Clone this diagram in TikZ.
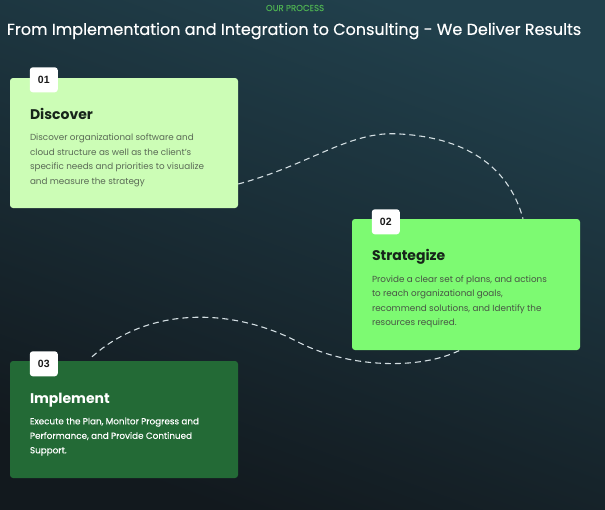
\documentclass[tikz,border=0pt]{standalone}
\usepackage{fontspec}
\setmainfont{Poppins}
\newfontfamily\medfont[FakeBold=0.3]{Poppins}
\newfontfamily\tabfont{Liberation Sans}
\usetikzlibrary{backgrounds}

\definecolor{bgtop}{HTML}{21404C}
\definecolor{bgbot}{HTML}{12191E}
\definecolor{discfill}{HTML}{CCFDB6}
\definecolor{stratfill}{HTML}{7DFA72}
\definecolor{implfill}{HTML}{236A36}
\definecolor{darktext}{HTML}{17251A}
\definecolor{greytext}{HTML}{5A6A56}
\definecolor{kicker}{HTML}{4DAF52}
\definecolor{trailcol}{HTML}{D3DEE2}

\begin{document}
\begin{tikzpicture}[x=1pt,y=-1pt]
  \tikzstyle{card}=[rounded corners=3pt,minimum width=228pt,inner sep=0pt]
  \tikzstyle{tab}=[fill=white,rounded corners=3pt,minimum width=28pt,minimum height=25pt,inner sep=0pt,text=black!90,font=\tabfont\bfseries\fontsize{10.5}{12}\selectfont]
  \tikzstyle{cardtitle}=[anchor=base west,inner sep=0pt,font=\bfseries\fontsize{14}{16}\selectfont]
  \tikzstyle{cardtext}=[anchor=base west,inner sep=0pt,align=left,font=\fontsize{8.8}{14.5}\selectfont]
  \tikzstyle{trail}=[draw=trailcol,line width=1.1pt,dash pattern=on 6pt off 4pt]

  % heading
  \node[text=kicker,font=\medfont\fontsize{8.6}{10}\selectfont] (kick) at (295,8) {OUR PROCESS};
  \node[text=white,font=\medfont\fontsize{16}{18}\selectfont] (head) at (294,31) {From Implementation and Integration to Consulting - We Deliver Results};

  % step 1
  \node[card,fill=discfill,minimum height=130pt] (disc) at (124,143) {};
  \node[tab] (n1) at ([shift={(34,2)}]disc.north west) {01};
  \node[cardtitle,text=darktext] (t1) at ([shift={(20,42)}]disc.north west) {Discover};
  % base anchor sits on the last line
  \node[cardtext,text=greytext] (b1) at ([shift={(20,106.5)}]disc.north west) {Discover organizational software and\\cloud structure as well as the client's\\specific needs and priorities to visualize\\and measure the strategy};

  % step 2
  \node[card,fill=stratfill,minimum height=131pt] (strat) at (466,284.5) {};
  \node[tab] (n2) at ([shift={(34,3)}]strat.north west) {02};
  \node[cardtitle,text=darktext] (t2) at ([shift={(20,42)}]strat.north west) {Strategize};
  \node[cardtext,text=greytext!80!black] (b2) at ([shift={(20,107)}]strat.north west) {Provide a clear set of plans, and actions\\to reach organizational goals,\\recommend solutions, and Identify the\\resources required.};

  % step 3
  \node[card,fill=implfill,minimum height=117pt] (impl) at (124,419.5) {};
  \node[tab] (n3) at ([shift={(34,3)}]impl.north west) {03};
  \node[cardtitle,text=white] (t3) at ([shift={(20,43)}]impl.north west) {Implement};
  \node[cardtext,text=white,font=\medfont\fontsize{8.8}{14.5}\selectfont] (b3) at ([shift={(20,92.5)}]impl.north west) {Execute the Plan, Monitor Progress and\\Performance, and Provide Continued\\Support.};

  \coordinate (crest1) at (400,134);
  \coordinate (bend2) at (300,343);

  \begin{scope}[on background layer]
    \shade[top color=bgtop,bottom color=bgbot,shading angle=-20] (0,0) rectangle (605,509);
    \draw[trail] ([yshift=-41pt]disc.east) .. controls (310,165) and (350,130) .. (crest1)
      .. controls (470,138) and (510,170) .. ([xshift=57pt]strat.north);
    \draw[trail] ([shift={(-32,-4)}]impl.north) .. controls (150,305) and (235,308) .. (bend2)
      .. controls (350,368) and (420,370) .. ([xshift=-6pt]strat.south);
  \end{scope}
\end{tikzpicture}
\end{document}
